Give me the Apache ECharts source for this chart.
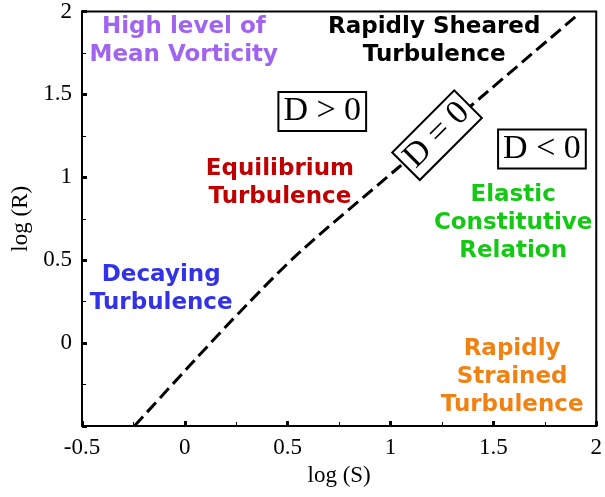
<!DOCTYPE html>
<html>
<head>
<meta charset="utf-8">
<script src="https://cdn.jsdelivr.net/npm/echarts@6/dist/echarts.min.js"></script>
<style>
  html, body { margin: 0; padding: 0; background: #fff; }
  #main { width: 605px; height: 497px; }
</style>
</head>
<body>
<div id="main"></div>
<script>
  // D = 0 boundary (log S, log R)
  var boundaryS = [-0.245, 0.05, 0.3, 0.56, 1.03, 1.39, 1.91];
  var boundaryR = [-0.5, -0.1, 0.23, 0.55, 1.05, 1.43, 1.98];

  // axis ticks
  var sTicks = [-0.5, 0, 0.5, 1, 1.5, 2];
  var rTicks = [-0.5, 0, 0.5, 1, 1.5, 2];

  // region names and where they sit (log S, log R)
  var regionNames = [
    'High level of\nMean Vorticity',
    'Rapidly Sheared\nTurbulence',
    'Equilibrium\nTurbulence',
    'Elastic\nConstitutive\nRelation',
    'Decaying\nTurbulence',
    'Rapidly\nStrained\nTurbulence'
  ];
  var regionS = [-0.005, 1.212, 0.462, 1.596, -0.115, 1.591];
  var regionR = [1.821, 1.821, 0.968, 0.723, 0.329, -0.202];
  var regionColors = ['#a064f0', '#000000', '#c00000', '#14c814', '#3232e6', '#f08214'];

  // sign-of-D boxes
  var signNames = ['D > 0', 'D < 0', 'D = 0'];
  var signS = [0.668, 1.736, 1.226];
  var signR = [1.397, 1.171, 1.254];
  var signAngle = [0, 0, 45];

  var chart = echarts.init(document.getElementById('main'));

  var boundaryData = boundaryS.map(function (s, i) {
    return [s, boundaryR[i]];
  });

  var regionData = regionNames.map(function (name, i) {
    return {
      value: [regionS[i], regionR[i]],
      name: name,
      label: { color: regionColors[i] }
    };
  });

  var signData = signNames.map(function (name, i) {
    return {
      value: [signS[i], signR[i]],
      name: name,
      label: { rotate: signAngle[i] }
    };
  });

  var axisFont = {
    fontFamily: 'Liberation Serif',
    fontSize: 23,
    color: '#000'
  };

  var option = {
    animation: false,
    backgroundColor: '#fff',
    grid: {
      left: 82,
      right: 3,
      top: 7,
      bottom: 71,
      show: true,
      borderColor: '#000',
      borderWidth: 2,
      backgroundColor: 'transparent'
    },
    xAxis: {
      type: 'value',
      min: sTicks[0],
      max: sTicks[sTicks.length - 1],
      interval: 0.5,
      name: 'log (S)',
      nameLocation: 'middle',
      nameGap: 38,
      nameTextStyle: axisFont,
      axisLine: { onZero: false, lineStyle: { color: '#000', width: 2 } },
      axisTick: { inside: true, length: 5, lineStyle: { color: '#000', width: 3 } },
      minorTick: { show: true, splitNumber: 2, length: 4, lineStyle: { color: '#000', width: 1 } },
      axisLabel: Object.assign({ margin: 10 }, axisFont),
      splitLine: { show: false }
    },
    yAxis: {
      type: 'value',
      min: rTicks[0],
      max: rTicks[rTicks.length - 1],
      interval: 0.5,
      name: 'log (R)',
      nameLocation: 'middle',
      nameGap: 50,
      nameTextStyle: axisFont,
      axisLine: { onZero: false, lineStyle: { color: '#000', width: 2 } },
      axisTick: { inside: true, length: 5, lineStyle: { color: '#000', width: 3 } },
      minorTick: { show: true, splitNumber: 2, length: 4, lineStyle: { color: '#000', width: 1 } },
      axisLabel: Object.assign({
        margin: 10,
        formatter: function (v) {
          return v === -0.5 ? '' : String(v);
        }
      }, axisFont),
      splitLine: { show: false }
    },
    series: [
      {
        type: 'line',
        data: boundaryData,
        smooth: 0.3,
        symbol: 'none',
        lineStyle: { color: '#000', width: 3, type: [13, 6] },
        z: 2
      },
      {
        type: 'scatter',
        data: regionData,
        symbolSize: 0,
        itemStyle: { color: 'transparent', opacity: 1 },
        label: {
          show: true,
          position: 'inside',
          formatter: '{b}',
          fontFamily: 'DejaVu Sans',
          fontWeight: 'bold',
          fontSize: 23,
          lineHeight: 28,
          textBorderWidth: 0,
          opacity: 1,
          align: 'center',
          verticalAlign: 'middle'
        },
        z: 3
      },
      {
        type: 'scatter',
        data: signData,
        symbolSize: 0,
        itemStyle: { color: 'transparent', opacity: 1 },
        label: {
          show: true,
          position: 'inside',
          formatter: '{b}',
          fontFamily: 'Liberation Serif',
          fontSize: 34,
          lineHeight: 34,
          color: '#000',
          textBorderWidth: 0,
          opacity: 1,
          backgroundColor: '#fff',
          borderColor: '#000',
          borderWidth: 2,
          padding: [3, 4, 0, 4],
          align: 'center',
          verticalAlign: 'middle'
        },
        z: 4
      }
    ]
  };

  chart.setOption(option);
</script>
</body>
</html>
